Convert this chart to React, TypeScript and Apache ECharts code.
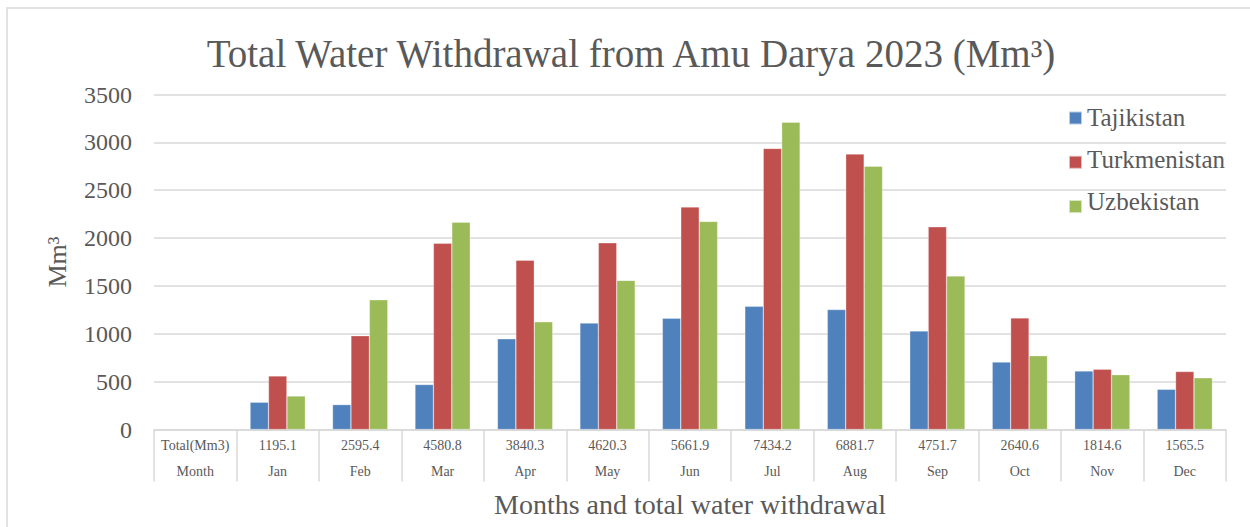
import React, { useEffect, useRef } from "react";
import * as echarts from "echarts";

const months = ["Jan", "Feb", "Mar", "Apr", "May", "Jun", "Jul", "Aug", "Sep", "Oct", "Nov", "Dec"];
const totals = ["1195.1", "2595.4", "4580.8", "3840.3", "4620.3", "5661.9", "7434.2", "6881.7", "4751.7", "2640.6", "1814.6", "1565.5"];
const headerTop = "Total(Mm3)";
const headerBottom = "Month";
const tajikistan = [285, 260, 470, 947, 1112, 1163, 1287, 1253, 1030, 704, 612, 420];
const turkmenistan = [560, 980, 1945, 1768, 1950, 2325, 2937, 2878, 2118, 1166, 630, 606];
const uzbekistan = [350, 1355, 2166, 1125, 1558, 2174, 3210, 2751, 1604, 771, 573, 540];
const seriesNames = ["Tajikistan", "Turkmenistan", "Uzbekistan"];
const colors = ["#4F81BD", "#C0504D", "#9BBB59"];
const yMin = 0;
const yMax = 3500;
const yStep = 500;

const FONT = "'Liberation Serif', serif";
const TEXT = "#595959";
const LINE = "#d9d9d9";

export default function App() {
  const ref = useRef<HTMLDivElement>(null);
  useEffect(() => {
    if (!ref.current) return;
    const chart = echarts.init(ref.current, undefined, { renderer: "svg" });
    const categories = [headerBottom, ...months];
    const topRow = [headerTop, ...totals];
    const mk = (name: string, vals: number[], color: string) => ({
      name,
      type: "bar",
      data: ["-", ...vals],
      barGap: "0%",
      barCategoryGap: "33%",
      itemStyle: { color, borderColor: "rgba(255,255,255,0.6)", borderWidth: 0.5 },
    });
    const legendTexts = seriesNames.map((n, i) => ({
      type: "text",
      x: 1087,
      y: 117 + i * 42.3,
      silent: true,
      style: {
        text: n,
        fontFamily: FONT,
        fontSize: 25,
        fill: TEXT,
        align: "left",
        verticalAlign: "middle",
      },
    }));
    chart.setOption({
      animation: false,
      textStyle: { fontFamily: FONT },
      grid: { left: 154, right: 24, top: 94.5, bottom: 97.5, containLabel: false },
      legend: {
        orient: "vertical",
        left: 1063,
        top: 105.5,
        itemWidth: 13,
        itemHeight: 13,
        itemGap: 29.3,
        icon: "rect",
        formatter: () => "",
        textStyle: { fontSize: 12, lineHeight: 13 },
        data: seriesNames,
      },
      xAxis: {
        type: "category",
        data: categories,
        axisLine: { lineStyle: { color: LINE, width: 1.5 } },
        axisTick: { show: true, interval: 0, length: 52, lineStyle: { color: LINE, width: 1.5 } },
        axisLabel: {
          interval: 0,
          margin: 3,
          fontFamily: FONT,
          fontSize: 14,
          color: TEXT,
          lineHeight: 26,
          formatter: (v: string, i: number) => topRow[i] + "\n" + v,
        },
      },
      yAxis: {
        type: "value",
        min: yMin,
        max: yMax,
        interval: yStep,
        axisLine: { show: false },
        axisTick: { show: false },
        axisLabel: {
          fontFamily: FONT,
          fontSize: 24,
          color: TEXT,
          margin: 22,
          formatter: (v: number) => String(v),
        },
        splitLine: { lineStyle: { color: LINE, width: 1.5 } },
      },
      graphic: [
        {
          type: "rect",
          shape: { x: 7, y: 8, width: 1260, height: 540 },
          style: { fill: "none", stroke: LINE, lineWidth: 1.5 },
          silent: true,
        },
        {
          type: "text",
          x: 631,
          y: 53,
          style: {
            text: "Total Water Withdrawal from Amu Darya 2023 (Mm³)",
            fontFamily: FONT,
            fontSize: 39,
            fill: TEXT,
            align: "center",
            verticalAlign: "middle",
          },
        },
        {
          type: "text",
          x: 690,
          y: 504,
          style: {
            text: "Months and total water withdrawal",
            fontFamily: FONT,
            fontSize: 28,
            fill: TEXT,
            align: "center",
            verticalAlign: "middle",
          },
        },
        {
          type: "text",
          x: 57,
          y: 262,
          rotation: Math.PI / 2,
          style: {
            text: "Mm³",
            fontFamily: FONT,
            fontSize: 26,
            fill: TEXT,
            align: "center",
            verticalAlign: "middle",
          },
        },
        ...legendTexts,
      ],
      series: [
        mk(seriesNames[0], tajikistan, colors[0]),
        mk(seriesNames[1], turkmenistan, colors[1]),
        mk(seriesNames[2], uzbekistan, colors[2]),
      ],
    });
    return () => chart.dispose();
  }, []);
  return (
    <div
      ref={ref}
      style={{ position: "fixed", left: 0, top: 0, width: 1250, height: 527, background: "#fff" }}
    />
  );
}
